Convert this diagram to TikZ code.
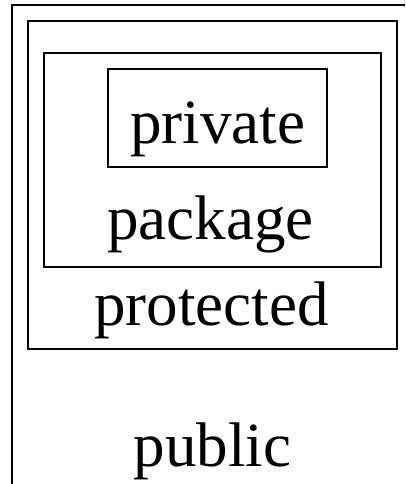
\documentclass[tikz,border=0pt]{standalone}
\usepackage{fontspec}
\setmainfont{Liberation Serif}
\begin{document}
\begin{tikzpicture}[x=1pt,y=-1pt,
  box/.style={draw=black,line width=1.1pt,inner sep=0pt},
  lbl/.style={inner sep=0pt,anchor=base,font=\fontsize{63}{63}\selectfont}]
\useasboundingbox (0,0) rectangle (405,484);
\coordinate (obl) at (12,484);
\coordinate (otl) at (12,5);
\coordinate (otr) at (405,5);
\draw[line width=1.1pt] (obl) -- (otl) -- (otr);
\node[box,minimum width=369pt,minimum height=328pt] (protbox) at (212.5,185) {};
\node[box,minimum width=337pt,minimum height=214pt] (packbox) at (212.5,160) {};
\node[box,minimum width=219pt,minimum height=98pt] (privbox) at (217.5,118) {};
\node[lbl] (private) at (217.5,143) {private};
\node[lbl] (package) at (210.5,239) {package};
\node[lbl] (protected) at (211.5,325) {protected};
\node[lbl] (public) at (212.5,466) {public};
\end{tikzpicture}
\end{document}
